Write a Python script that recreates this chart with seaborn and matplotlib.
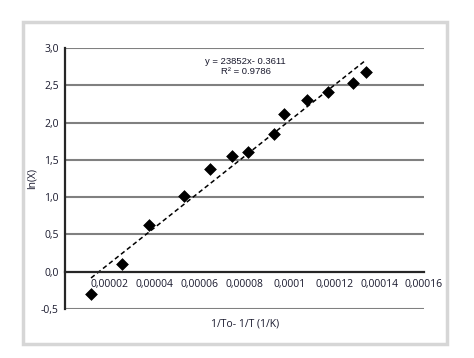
import numpy as np
import pandas as pd
import matplotlib
matplotlib.use("Agg")
import matplotlib.pyplot as plt
import seaborn as sns
from matplotlib.patches import Rectangle

# data
inv_t = [0.0000116, 0.0000254, 0.0000374, 0.0000531, 0.0000645, 0.0000745,
         0.0000816, 0.0000930, 0.0000977, 0.0001077, 0.0001170, 0.0001284, 0.0001343]
ln_x = [-0.30, 0.11, 0.62, 1.01, 1.38, 1.55, 1.60, 1.85, 2.11, 2.30, 2.41, 2.53, 2.68]
slope = 23852
intercept = -0.3611
r2 = 0.9786

x_ticks = [0, 0.00002, 0.00004, 0.00006, 0.00008, 0.0001, 0.00012, 0.00014, 0.00016]
x_labels = ["", "0,00002", "0,00004", "0,00006", "0,00008", "0,0001", "0,00012", "0,00014", "0,00016"]
y_ticks = [-0.5, 0.0, 0.5, 1.0, 1.5, 2.0, 2.5, 3.0]
y_labels = ["-0,5", "0,0", "0,5", "1,0", "1,5", "2,0", "2,5", "3,0"]

df = pd.DataFrame({"x": inv_t, "y": ln_x})
fit = pd.DataFrame({"x": [min(inv_t), max(inv_t)]})
fit["y"] = slope * fit["x"] + intercept

sns.set_style("white")
plt.rcParams["font.family"] = ["Open Sans", "DejaVu Sans"]
txt = "#1a1a2e"

fig = plt.figure(figsize=(4.74, 3.58), dpi=100)
# outer grey frame
fig.patches.append(Rectangle((23 / 474, 1 - 344 / 358), 424 / 474, 322 / 358,
                             transform=fig.transFigure, fill=False,
                             edgecolor="#d6d6d6", linewidth=2.5))

ax = fig.add_axes([65 / 474, 1 - 309 / 358, 359 / 474, 261 / 358])
for yv in y_ticks:
    if yv != 0:
        ax.axhline(yv, color="#808080", linewidth=1.5, zorder=0)

sns.lineplot(data=fit, x="x", y="y", ax=ax, color="black", linewidth=1.1,
             linestyle=(0, (3, 2)), zorder=2)
sns.scatterplot(data=df, x="x", y="y", ax=ax, marker="D", s=36, color="black",
                edgecolor="black", zorder=3)

ax.set_xlim(0, 0.00016)
ax.set_ylim(-0.5, 3.0)
ax.spines["bottom"].set_position(("data", 0))
ax.spines["bottom"].set_linewidth(1.6)
ax.spines["left"].set_linewidth(1.6)
ax.spines["top"].set_visible(False)
ax.spines["right"].set_visible(False)

ax.set_xticks(x_ticks)
ax.set_xticklabels(x_labels)
ax.set_yticks(y_ticks)
ax.set_yticklabels(y_labels)
ax.tick_params(axis="both", direction="out", length=3, width=1.2, color="black",
               labelsize=7.5, labelcolor=txt, pad=2)
ax.tick_params(axis="y", pad=1.5)

ax.set_xlabel("")
ax.set_ylabel("ln(X)", fontsize=7.5, color=txt, labelpad=2)
fig.text(245 / 474, 1 - 324 / 358, "1/To- 1/T (1/K)", ha="center", va="center",
         fontsize=7.5, color=txt)

ax.text(0.0000805, 2.75, f"y = {slope}x- {abs(intercept)}\nR\u00b2 = {r2}",
        ha="center", va="center", fontsize=6.8, color=txt, linespacing=1.05,
        family=["Liberation Sans", "DejaVu Sans"])

fig.savefig("out.png", dpi=100)
